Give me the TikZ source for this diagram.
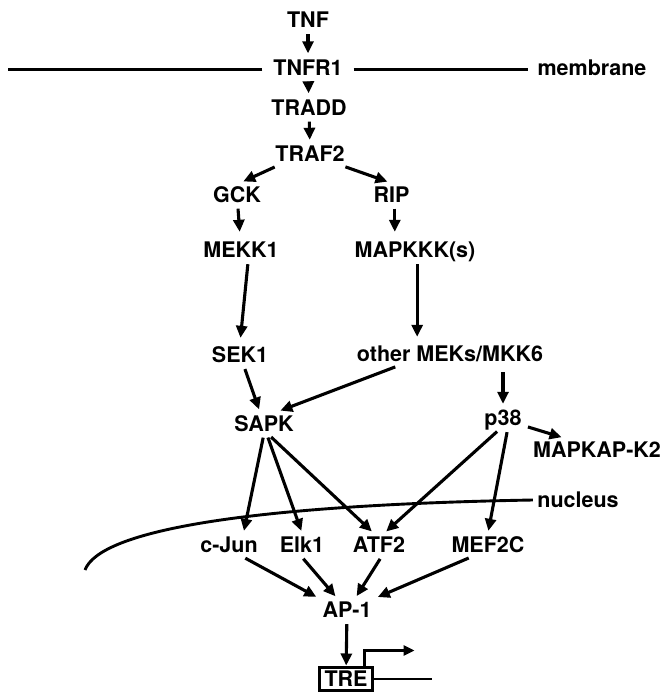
\documentclass[tikz,border=0pt]{standalone}
\usepackage{fontspec}
\setmainfont{TeX Gyre Heros}
\usetikzlibrary{arrows.meta}

\begin{document}
\begin{tikzpicture}[x=1pt, y=-1pt,
  every node/.style={font=\fontsize{21.5}{24}\selectfont\bfseries, inner sep=4.5pt, text height=15.4pt, text depth=0pt, outer sep=0pt},
  arr/.style={line width=3.1pt, -{Triangle[length=12pt, width=11pt]}, shorten >=2pt, shorten <=2pt},
  membr/.style={line width=3.4pt},
  nucl/.style={line width=2.9pt}]
\useasboundingbox (0,0) rectangle (663,692);

\node (tnf) at (308,20) {TNF};
\node (tnfr1) at (308,67.5) {TNFR1};
\node (tradd) at (309,107.5) {TRADD};
\node (traf2) at (310,154) {TRAF2};
\node (gck) at (237,194.5) {GCK};
\node (rip) at (391.5,194.5) {RIP};
\node (mekk1) at (241,250) {MEKK1};
\node (mapkkk) at (415,250) {MAPKKK(s)};
\node (sek1) at (240,355) {SEK1};
\node (others) at (450,354) {other MEKs/MKK6};
\node (sapk) at (264,423.5) {SAPK};
\node (p38) at (503,418) {p38};
\node (mapkapk2) at (597,450) {MAPKAP-K2};
\node (cjun) at (229,545) {c-Jun};
\node (elk1) at (302,545) {Elk1};
\node (atf2) at (379,545) {ATF2};
\node (mef2c) at (488,545) {MEF2C};
\node (ap1) at (347,610) {AP-1};
\node[draw, line width=2.5pt, inner sep=0pt, minimum width=53pt, minimum height=23pt] (tre) at (346,679) {TRE};

\node (membrane) at (592,67.5) {membrane};
\node (nucleus) at (578,500) {nucleus};

\draw[membr, shorten <=6.5pt] ([yshift=-2pt]tnfr1.west) -- ++(-260.5,0);
\draw[membr, shorten <=6.5pt, shorten >=5pt] ([yshift=-2pt]tnfr1.east) -- ([yshift=-2pt]membrane.west);
\coordinate (nuclend) at (85,570);
\draw[nucl] (nuclend) .. controls (100,530) and (250,505) .. (nucleus.west);

\draw[arr] (tnf) -- (tnfr1);
\draw[arr] (tnfr1) -- (tradd);
\draw[arr] (tradd) -- (traf2);
\draw[arr] (traf2.200) -- (gck.70);
\draw[arr] (traf2.-20) -- (rip.100);
\draw[arr, shorten >=6pt] (gck) -- (mekk1);
\draw[arr, shorten >=6pt] (rip.-75) -- (rip.-75 |- mapkkk.north);
\draw[arr, shorten >=5pt] (mekk1.-60) -- (sek1.north);
\draw[arr, shorten >=5pt] (mapkkk.-80) -- (mapkkk.-80 |- others.north);
\draw[arr] (sek1) -- (sapk);
\draw[arr] (others.-167) -- (sapk.40);
\draw[arr, shorten <=6pt] (others.south -| p38) -- (p38);
\draw[arr] (p38.-20) -- (mapkapk2.160);
\draw[arr] (sapk.-92) -- (cjun.40);
\draw[arr] (sapk.-75) -- (elk1.north);
\draw[arr] (sapk.-65) -- (atf2.115);
\draw[arr] (p38.-110) -- (atf2.65);
\draw[arr] (p38.-70) -- (mef2c.north);
\draw[arr] (cjun.-40) -- (ap1.north west);
\draw[arr] (elk1.south) -- (ap1.130);
\draw[arr] (atf2.-80) -- (ap1.55);
\draw[arr] (mef2c.-145) -- (ap1.north east);
\draw[arr] (ap1) -- (tre);

\draw[line width=2.6pt, -{Triangle[length=11pt, width=10pt]}] ([xshift=-8pt]tre.north east) -- ++(0,-17) -- ++(50,0);
\draw[line width=2.6pt] (tre.east) -- ++(59,0);
\end{tikzpicture}
\end{document}
